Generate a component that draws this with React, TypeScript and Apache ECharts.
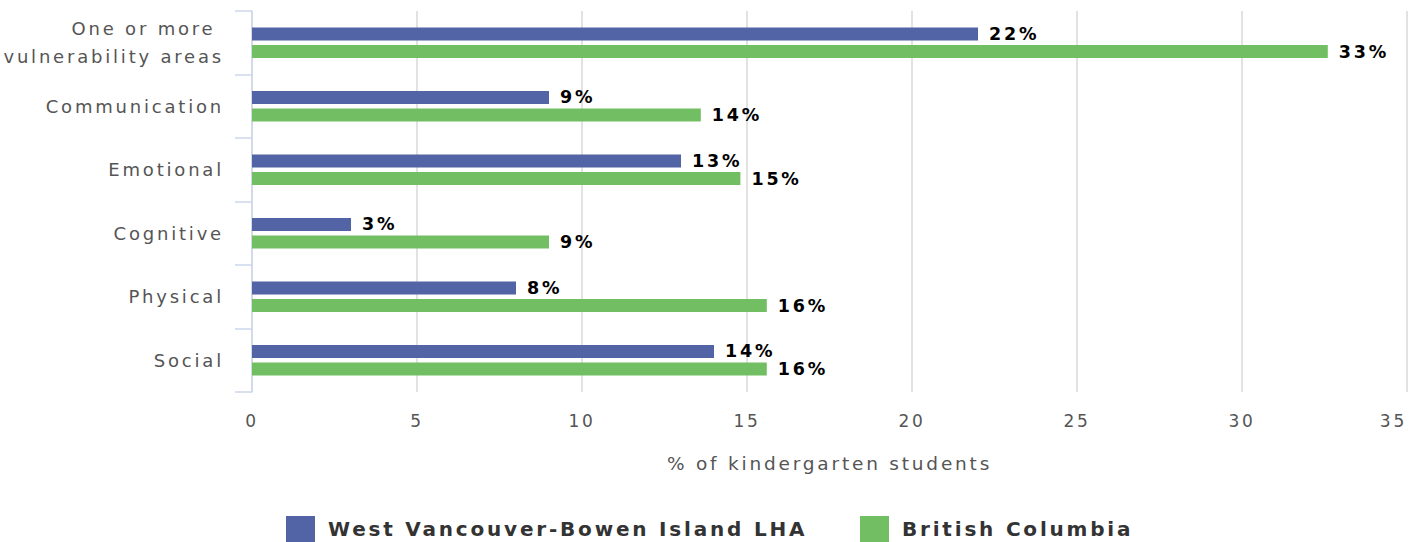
import React, { useEffect, useRef } from "react";
import * as echarts from "echarts";

const categories = [
  "One or more \nvulnerability areas",
  "Communication",
  "Emotional",
  "Cognitive",
  "Physical",
  "Social",
];
const seriesNames = ["West Vancouver-Bowen Island LHA", "British Columbia"];
const localValues = [22, 9, 13, 3, 8, 14];
const bcValues = [32.6, 13.6, 14.8, 9, 15.6, 15.6];
const colors = ["#5263A6", "#72BF63"];
const axisName = "% of kindergarten students";

export default function App() {
  const ref = useRef<HTMLDivElement>(null);
  useEffect(() => {
    if (!ref.current) return;
    const chart = echarts.init(ref.current, null, { renderer: "svg" });
    const font = "'DejaVu Sans', sans-serif";
    const label = {
      show: true,
      position: "right",
      distance: 11,
      color: "#000",
      fontWeight: "bold",
      fontSize: 17.5,
      fontFamily: font,
      formatter: (p: any) => Math.round(p.value) + "%",
    };
    const legendBase = {
      top: 516,
      padding: 0,
      itemWidth: 29,
      itemHeight: 26,
      icon: "rect",
      textStyle: { fontSize: 20, fontWeight: "bold", color: "#333", fontFamily: font, padding: [0, 0, 0, 8] },
    };
    chart.setOption({
      animation: false,
      textStyle: { fontFamily: font },
      grid: { left: 252, right: 17, top: 11, bottom: 150, containLabel: false },
      legend: [
        { ...legendBase, left: 286, data: [seriesNames[0]] },
        { ...legendBase, left: 860, data: [seriesNames[1]] },
      ],
      xAxis: {
        type: "value",
        min: 0,
        max: 35,
        interval: 5,
        axisLine: { show: false },
        axisTick: { show: false },
        splitLine: { lineStyle: { color: "#d9d9d9", width: 1.5 } },
        axisLabel: { color: "#555", fontSize: 17, margin: 20, fontFamily: font, alignMaxLabel: "right" },
        name: axisName,
        nameLocation: "middle",
        nameGap: 62,
        nameTextStyle: { color: "#555", fontSize: 18.5, fontFamily: font },
      },
      yAxis: {
        type: "category",
        inverse: true,
        data: categories,
        axisLine: { show: true, lineStyle: { color: "#ccd6eb", width: 1.5 } },
        axisTick: { show: true, length: 17, lineStyle: { color: "#ccd6eb", width: 1.5 } },
        axisLabel: { color: "#555", fontSize: 18, margin: 28, lineHeight: 28, fontFamily: font },
      },
      series: [
        {
          name: seriesNames[0],
          type: "bar",
          data: localValues,
          barWidth: 13,
          barGap: "35%",
          itemStyle: { color: colors[0] },
          label,
        },
        {
          name: seriesNames[1],
          type: "bar",
          data: bcValues,
          barWidth: 13,
          itemStyle: { color: colors[1] },
          label,
        },
      ],
    });
    return () => chart.dispose();
  }, []);
  return (
    <>
      <style>{`#chart text{letter-spacing:2.8px}`}</style>
      <div id="chart" ref={ref} style={{ width: 1424, height: 542, position: "absolute", left: 0, top: 0 }} />
    </>
  );
}
